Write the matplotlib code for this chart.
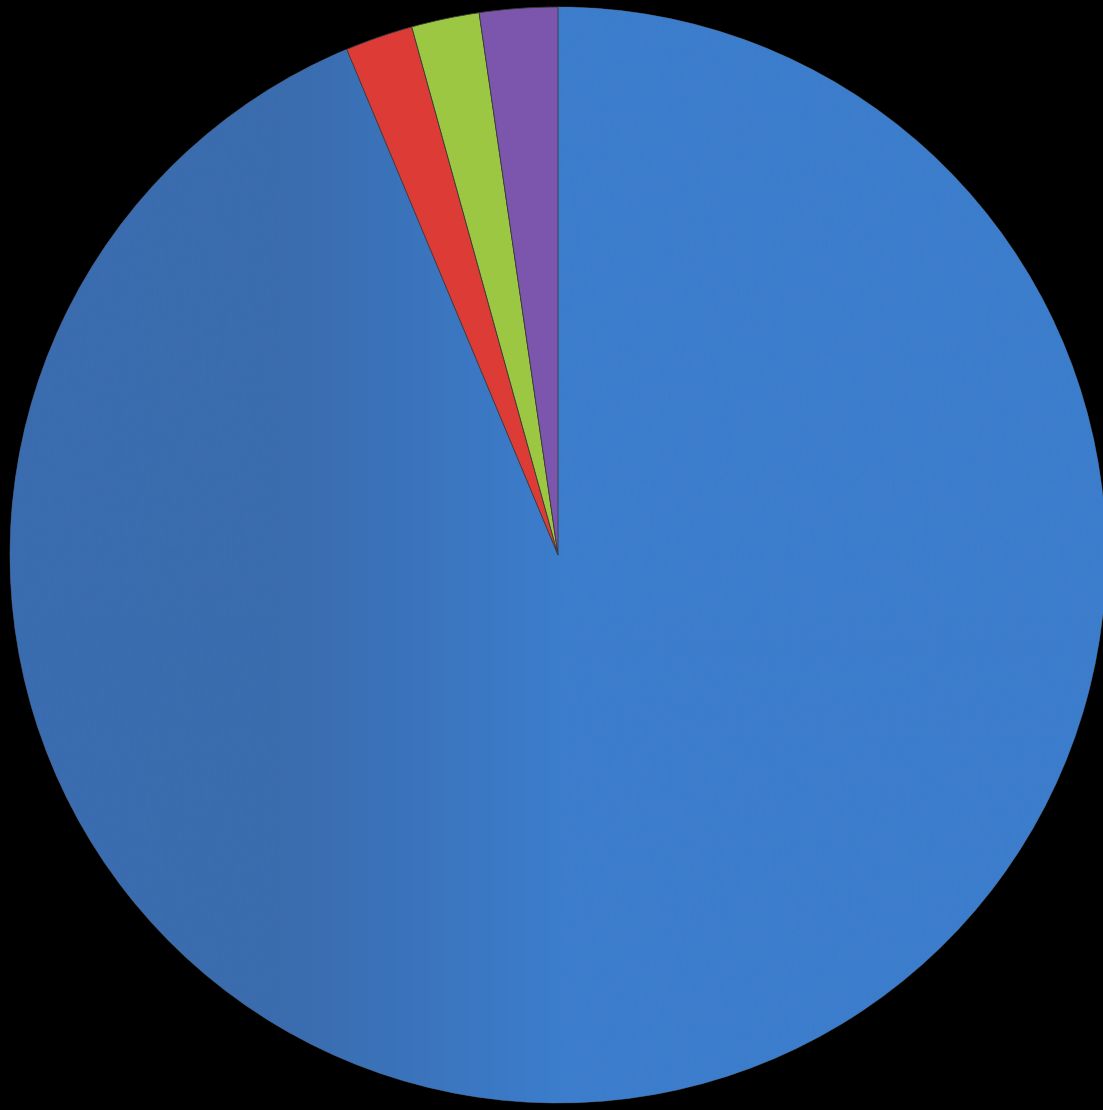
import matplotlib
matplotlib.use("Agg")
import matplotlib.pyplot as plt
import numpy as np
from matplotlib.colors import LinearSegmentedColormap

# Data (clockwise from 12 o'clock)
categories = ["A", "B", "C", "D"]
values = [93.7, 2.0, 2.0, 2.3]
colors = ["#3C7DCC", "#DC3B36", "#9CC743", "#7C56AC"]

W, H = 1103, 1110
cx, cy, R = 558, 555, 548

fig = plt.figure(figsize=(W / 100, H / 100), dpi=100, facecolor="black")
ax = fig.add_axes([0, 0, 1, 1])
ax.set_facecolor("black")

wedges, _ = ax.pie(values, colors=colors, startangle=90, counterclock=False,
                   radius=R, center=(0, 0), frame=True,
                   wedgeprops=dict(edgecolor="#3a3a3a", linewidth=0.6))
ax.set_xlim(-cx, W - cx)
ax.set_ylim(-(H - cy), cy)
ax.set_aspect("equal")
ax.axis("off")

# subtle horizontal shading on the large slice (darker at left)
cmap = LinearSegmentedColormap.from_list(
    "shade", [(0.0, "#3A6DB0"), (0.25, "#3A6CAE"), (0.5, "#3C7DCC"), (1.0, "#3C7DCC")])
grad = np.linspace(0, 1, 512).reshape(1, -1)
im = ax.imshow(grad, cmap=cmap, extent=(-R, R, -R, R), aspect="auto",
               interpolation="bicubic", zorder=wedges[0].get_zorder() + 0.1)
im.set_clip_path(wedges[0])
for w in wedges[1:]:
    w.set_zorder(wedges[0].get_zorder() + 0.2)
ax.set_xlim(-cx, W - cx)
ax.set_ylim(-(H - cy), cy)

fig.savefig("out.png", dpi=100, facecolor="black")
